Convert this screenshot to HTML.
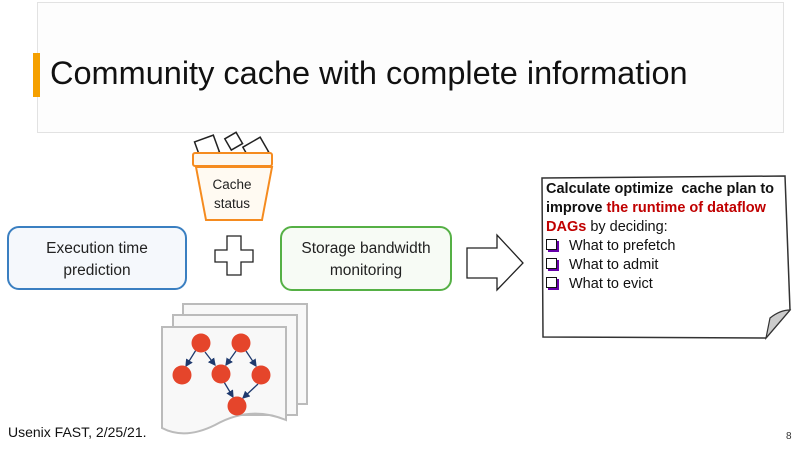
<!DOCTYPE html>
<html><head><meta charset="utf-8"><style>
body{margin:0;width:800px;height:450px;background:#fff;position:relative;overflow:hidden;font-family:"Liberation Sans",sans-serif;}
.abs{position:absolute}
</style></head><body>
<div class="abs" style="left:37px;top:2px;width:745px;height:129px;border:1px solid #e2e2e2;background:#fdfdfd"></div>
<div class="abs" style="left:33px;top:53px;width:7px;height:44px;background:#f5a000"></div>
<div class="abs" style="left:50px;top:55px;font-size:32.5px;color:#111;white-space:nowrap">Community cache with complete information</div>
<svg class="abs" style="left:0;top:0" width="800" height="450">
 <defs><marker id="ah" markerWidth="6" markerHeight="6" refX="5" refY="3" orient="auto"><path d="M0 0 L6 3 L0 6 Z" fill="#1f3a6e"/></marker></defs>
 <g stroke="#222" stroke-width="1.5" fill="#fff">
  <rect x="197" y="138" width="20" height="18" transform="rotate(-20 207 147)"/>
  <rect x="227" y="135" width="13" height="13" transform="rotate(-30 233 141)"/>
  <rect x="246" y="141" width="20" height="17" transform="rotate(-30 256 150)"/>
 </g>
 <path d="M196 167 L272 167 L262 220 L206 220 Z" fill="#fffaf2" stroke="#f58b1f" stroke-width="2"/>
 <rect x="193" y="153" width="79" height="13" rx="2" fill="#fdf8f0" stroke="#f58b1f" stroke-width="2"/>
 <rect x="8" y="227" width="178" height="62" rx="11" fill="#f5f8fc" stroke="#3a7fc1" stroke-width="2"/>
 <rect x="281" y="227" width="170" height="63" rx="11" fill="#f7fbf5" stroke="#55b045" stroke-width="2"/>
 <path d="M227 236 L241 236 L241 250 L253 250 L253 262 L241 262 L241 275 L227 275 L227 262 L215 262 L215 250 L227 250 Z" fill="#fff" stroke="#222" stroke-width="1.3"/>
 <path d="M467 248 L497 248 L497 235 L523 263 L497 290 L497 278 L467 278 Z" fill="#fff" stroke="#222" stroke-width="1.3"/>
 <path d="M542 178 L785 176 L790 310 L766 338 L543 337 Z" fill="#fff" stroke="#333" stroke-width="1.5"/>
 <path d="M766 338 L770 318 Q780 310 790 310 Z" fill="#ccc" stroke="#333" stroke-width="1.2"/>
 <g fill="#f8f8f8" stroke="#bbb" stroke-width="2">
  <rect x="183" y="304" width="124" height="100"/>
  <rect x="173" y="315" width="124" height="100"/>
  <path d="M162 327 L286 327 L286 420 Q250 405 215 425 Q185 440 162 428 Z"/>
 </g>
 <g stroke="#1f3a6e" stroke-width="1.3" marker-end="url(#ah)">
  <line x1="196" y1="350" x2="186" y2="366"/><line x1="205" y1="352" x2="215" y2="365"/>
  <line x1="236" y1="351" x2="226" y2="365"/><line x1="246" y1="351" x2="256" y2="366"/>
  <line x1="224" y1="382" x2="233" y2="397"/><line x1="258" y1="384" x2="243" y2="398"/>
 </g>
 <g fill="#e5452b">
  <circle cx="201" cy="343" r="9.5"/><circle cx="241" cy="343" r="9.5"/>
  <circle cx="182" cy="375" r="9.5"/><circle cx="221" cy="374" r="9.5"/><circle cx="261" cy="375" r="9.5"/>
  <circle cx="237" cy="406" r="9.5"/>
 </g>
</svg>
<div class="abs" style="left:196px;top:175px;width:72px;text-align:center;font-size:13.5px;line-height:19px;color:#222">Cache<br>status</div>
<div class="abs" style="left:8px;top:238px;width:178px;text-align:center;font-size:15.5px;line-height:22px;color:#222">Execution time<br>prediction</div>
<div class="abs" style="left:281px;top:238px;width:170px;text-align:center;font-size:15.5px;line-height:22px;color:#222">Storage bandwidth<br>monitoring</div>
<div class="abs" style="left:546px;top:180px;width:240px;font-size:14.5px;line-height:19px;color:#111">
<b>Calculate optimize&nbsp; cache plan to improve <span style="color:#c00000">the runtime of dataflow DAGs</span></b> by deciding:<br>
<span style="display:inline-block;width:9px;height:9px;border:1.5px solid #111;box-shadow:2px 2px 0 #60a;margin-right:12px"></span>What to prefetch<br>
<span style="display:inline-block;width:9px;height:9px;border:1.5px solid #111;box-shadow:2px 2px 0 #60a;margin-right:12px"></span>What to admit<br>
<span style="display:inline-block;width:9px;height:9px;border:1.5px solid #111;box-shadow:2px 2px 0 #60a;margin-right:12px"></span>What to evict</div>
<div class="abs" style="left:8px;top:424px;font-size:14px;color:#111">Usenix FAST, 2/25/21.</div>
<div class="abs" style="left:786px;top:431px;font-size:10px;color:#333">8</div>
</body></html>
